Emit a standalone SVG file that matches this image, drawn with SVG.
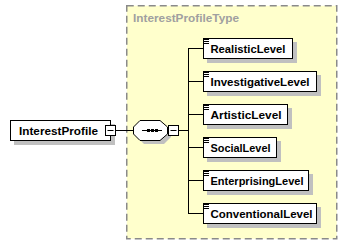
<svg xmlns="http://www.w3.org/2000/svg" width="348" height="245" viewBox="0 0 348 245">
  <style>
    .bg { fill: #ffffff; }
    .type { fill: #ffffcc; stroke: #8a8a8a; stroke-width: 1.5; stroke-dasharray: 7 4; }
    .type-label { font-family: "Liberation Sans", Arial, sans-serif; font-weight: bold; font-size: 11.5px; fill: #a0a0a0; }
    .shadow { fill: #c0c0c0; stroke: none; }
    .box { fill: #ffffff; stroke: #000000; stroke-width: 1; }
    .label { font-family: "Liberation Sans", Arial, sans-serif; font-weight: bold; font-size: 11.5px; fill: #000000; }
    .line { fill: none; stroke: #000000; stroke-width: 1; }
    .dot { fill: #000000; }
  </style>
  <defs>
    <!-- "contains simple content" marker drawn in the top-left corner of each child element -->
    <g id="content-icon">
      <path class="line" d="M1 1.5h5M1 3.5h5M1 5.5h5"/>
    </g>
    <!-- collapse toggle -->
    <g id="minus">
      <rect class="box" x="-5" y="-5" width="10" height="10"/>
      <path class="line" d="M-3 0h6"/>
    </g>
  </defs>

  <rect class="bg" x="0" y="0" width="348" height="245"/>

  <!-- complex type container -->
  <g id="InterestProfileType">
    <rect class="type" x="126.75" y="5.75" width="210" height="233"/>
    <text class="type-label" x="133" y="22" textLength="106" lengthAdjust="spacingAndGlyphs">InterestProfileType</text>
  </g>

  <!-- connectors -->
  <g id="connectors">
    <path class="line" d="M116 130.5H133"/>
    <path class="line" d="M178 130.5H188.5"/>
    <path class="line" d="M188.5 48V214"/>
    <path class="line" d="M188 48.5H203"/>
    <path class="line" d="M188 81.5H203"/>
    <path class="line" d="M188 114.5H203"/>
    <path class="line" d="M188 147.5H203"/>
    <path class="line" d="M188 180.5H203"/>
    <path class="line" d="M188 213.5H203"/>
  </g>

  <!-- root element -->
  <g id="InterestProfile">
    <rect class="shadow" x="14" y="124" width="101" height="21"/>
    <rect class="box" x="10.5" y="120.5" width="100" height="20"/>
    <text class="label" x="19" y="135" textLength="79" lengthAdjust="spacingAndGlyphs">InterestProfile</text>
    <use href="#minus" x="110.5" y="130.5"/>
  </g>

  <!-- sequence compositor -->
  <g id="sequence">
    <polygon class="shadow" points="144,124 164,124 171,131 171,137 164,144 144,144 137,137 137,131"/>
    <polygon class="box" points="140,120.5 160,120.5 167.5,127 167.5,134 160,140.5 140,140.5 133.5,134 133.5,127"/>
    <path class="line" d="M142 130.5H162"/>
    <rect class="dot" x="147" y="129" width="3" height="3"/>
    <rect class="dot" x="151" y="129" width="3" height="3"/>
    <rect class="dot" x="155" y="129" width="3" height="3"/>
    <use href="#minus" x="173.5" y="130.5"/>
  </g>

  <!-- child elements -->
  <g id="RealisticLevel">
    <rect class="shadow" x="207" y="42" width="90" height="21"/>
    <rect class="box" x="203.5" y="38.5" width="89" height="20"/>
    <use href="#content-icon" x="203" y="38"/>
    <text class="label" x="210.5" y="53" textLength="75" lengthAdjust="spacingAndGlyphs">RealisticLevel</text>
  </g>

  <g id="InvestigativeLevel">
    <rect class="shadow" x="207" y="75" width="114" height="21"/>
    <rect class="box" x="203.5" y="71.5" width="113" height="20"/>
    <use href="#content-icon" x="203" y="71"/>
    <text class="label" x="210.5" y="86" textLength="99" lengthAdjust="spacingAndGlyphs">InvestigativeLevel</text>
  </g>

  <g id="ArtisticLevel">
    <rect class="shadow" x="207" y="108" width="85" height="21"/>
    <rect class="box" x="203.5" y="104.5" width="84" height="20"/>
    <use href="#content-icon" x="203" y="104"/>
    <text class="label" x="210.5" y="119" textLength="71" lengthAdjust="spacingAndGlyphs">ArtisticLevel</text>
  </g>

  <g id="SocialLevel">
    <rect class="shadow" x="207" y="141" width="74" height="21"/>
    <rect class="box" x="203.5" y="137.5" width="73" height="20"/>
    <use href="#content-icon" x="203" y="137"/>
    <text class="label" x="210.5" y="152" textLength="60" lengthAdjust="spacingAndGlyphs">SocialLevel</text>
  </g>

  <g id="EnterprisingLevel">
    <rect class="shadow" x="207" y="174" width="106" height="21"/>
    <rect class="box" x="203.5" y="170.5" width="105" height="20"/>
    <use href="#content-icon" x="203" y="170"/>
    <text class="label" x="210.5" y="185" textLength="93" lengthAdjust="spacingAndGlyphs">EnterprisingLevel</text>
  </g>

  <g id="ConventionalLevel">
    <rect class="shadow" x="207" y="207" width="114" height="21"/>
    <rect class="box" x="203.5" y="203.5" width="113" height="20"/>
    <use href="#content-icon" x="203" y="203"/>
    <text class="label" x="210.5" y="218" textLength="102" lengthAdjust="spacingAndGlyphs">ConventionalLevel</text>
  </g>
</svg>
